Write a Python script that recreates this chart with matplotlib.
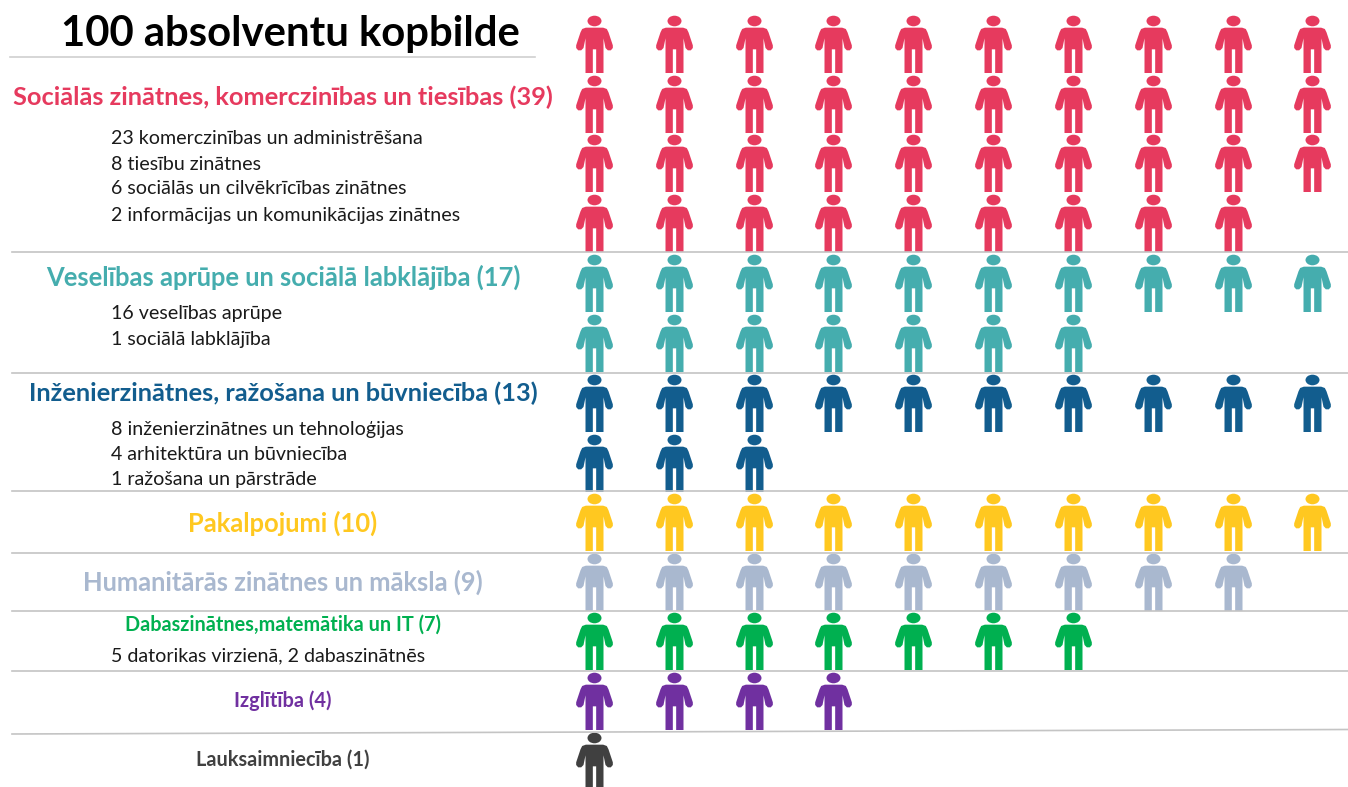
import numpy as np
import matplotlib
matplotlib.use("Agg")
import matplotlib.pyplot as plt
from matplotlib.path import Path
from matplotlib.transforms import Affine2D

plt.rcParams["font.family"] = ["Lato", "DejaVu Sans"]

TITLE = "100 absolventu kopbilde"
GROUPS = [
    "Sociālās zinātnes, komerczinības un tiesības",
    "Veselības aprūpe un sociālā labklājība",
    "Inženierzinātnes, ražošana un būvniecība",
    "Pakalpojumi",
    "Humanitārās zinātnes un māksla",
    "Dabaszinātnes,matemātika un IT",
    "Izglītība",
    "Lauksaimniecība",
]
COUNTS = [39, 17, 13, 10, 9, 7, 4, 1]
DETAILS = [
    ["23 komerczinības un administrēšana", "8 tiesību zinātnes",
     "6 sociālās un cilvēkrīcības zinātnes", "2 informācijas un komunikācijas zinātnes"],
    ["16 veselības aprūpe", "1 sociālā labklājība"],
    ["8 inženierzinātnes un tehnoloģijas", "4 arhitektūra un būvniecība", "1 ražošana un pārstrāde"],
    [],
    [],
    ["5 datorikas virzienā, 2 dabaszinātnēs"],
    [],
    [],
]

# layout, in reference pixels
COLORS = ["#E63A5E", "#45ADAE", "#125D8E", "#FFC820", "#A9B8CF", "#00B050", "#7030A0", "#404040"]
COL_X = [594, 674, 754, 833, 913, 993, 1073, 1153, 1233, 1312]
ROW_Y = [[44, 104, 163, 223], [283, 343], [403, 463], [522], [582], [641], [701], [761]]
HEAD_X = [283, 283, 283, 283, 283, 283, 283, 283]
HEAD_Y = [97, 277, 393, 523, 582, 625, 701, 760]
HEAD_SIZE = [18.3, 18.4, 18.3, 18.4, 18.4, 14.3, 14.4, 14.3]
DETAIL_Y = [[138, 164, 189, 215], [314, 340], [429, 455, 480], [], [], [656], [], []]
SEPARATORS = [(252, 252), (373, 373), (491, 491), (553, 553), (611, 611), (671, 671), (734, 729.5)]

# person icon (units: zoomed px, y down)
body = np.array([
    (76, 82), (128, 82), (139, 86), (144, 96), (157, 135), (157, 143), (151, 150), (142, 150),
    (135, 143), (129, 114), (129, 218), (107, 218), (107, 147), (97, 147), (97, 218), (75, 218),
    (75, 114), (69, 143), (62, 150), (53, 150), (47, 143), (47, 135), (60, 96), (65, 86), (76, 82),
], dtype=float)
body = np.column_stack([(body[:, 0] - 102) / 3, (132.5 - body[:, 1]) / 3])
head = Path.unit_circle().transformed(Affine2D().scale(7.0, 5.3).translate(0, (132.5 - 62) / 3))
person = Path.make_compound_path(Path(body, closed=False), head)
half_h = np.abs(person.vertices).max()

W, H = 1348, 787
DPI = 100
fig = plt.figure(figsize=(W / DPI, H / DPI), dpi=DPI)
ax = fig.add_axes([0, 0, 1, 1])
ax.set_xlim(0, W)
ax.set_ylim(H, 0)
ax.axis("off")

ax.text(290, 34, TITLE, ha="center", va="center", fontsize=30.2, fontweight="bold", color="black")
ax.plot([10, 535], [57, 57], color="#d0d0d0", lw=1.2)

for y0, y1 in SEPARATORS:
    ax.plot([12, W], [y0, y1], color="#c4c4c4", lw=1.2)

marker_s = (2 * half_h * 72 / DPI) ** 2
for i, (name, n) in enumerate(zip(GROUPS, COUNTS)):
    xs = [COL_X[k % 10] for k in range(n)]
    ys = [ROW_Y[i][k // 10] for k in range(n)]
    ax.scatter(xs, ys, marker=person, s=marker_s, color=COLORS[i], linewidths=0, clip_on=True)
    ax.text(HEAD_X[i], HEAD_Y[i], f"{name} ({n})", ha="center", va="center",
            fontsize=HEAD_SIZE[i], fontweight="bold", color=COLORS[i])
    for line, y in zip(DETAILS[i], DETAIL_Y[i]):
        ax.text(111, y, line, ha="left", va="center", fontsize=14.1, color="#1a1a1a")

fig.savefig("out.png", dpi=DPI)
